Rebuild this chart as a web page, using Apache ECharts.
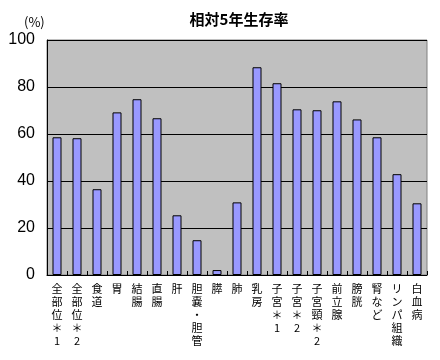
<!DOCTYPE html>
<html>
<head>
<meta charset="utf-8">
<script src="https://cdn.jsdelivr.net/npm/echarts@6/dist/echarts.min.js"></script>
<style>
html,body{margin:0;padding:0;background:#fff;}
#c{width:440px;height:360px;}
</style>
</head>
<body>
<div id="c"></div>
<script>
const titleText = '相対5年生存率';
const unitText = '(%)';
const categories = ['全部位＊1','全部位＊2','食道','胃','結腸','直腸','肝','胆嚢・胆管','膵','肺','乳房','子宮＊1','子宮＊2','子宮頸＊2','前立腺','膀胱','腎など','リンパ組織','白血病'];
const survivalRates = [58.6, 58.2, 36.5, 69.2, 74.8, 66.7, 25.4, 14.8, 2.1, 30.9, 88.4, 81.6, 70.5, 70.1, 73.9, 66.2, 58.6, 42.9, 30.5];
const yTicks = {min: 0, max: 100, interval: 20};

const FONT = '"Noto Sans CJK JP", "Noto Sans", sans-serif';
const chart = echarts.init(document.getElementById('c'), null, {renderer: 'canvas'});
chart.setOption({
  animation: false,
  backgroundColor: '#ffffff',
  title: {
    text: titleText,
    left: 234, top: 7,
    textAlign: 'center',
    textStyle: {fontFamily: FONT, fontSize: 15, fontWeight: 'bold', color: '#000'}
  },
  graphic: [{
    type: 'text', left: 24, top: 16,
    style: {text: unitText, font: '13px ' + FONT, fill: '#000'}
  }],
  grid: {
    left: 47, right: 13, top: 40, bottom: 85,
    show: true, backgroundColor: '#C0C0C0', borderColor: '#808080', borderWidth: 1
  },
  xAxis: {
    type: 'category',
    data: categories,
    axisLine: {lineStyle: {color: '#000', width: 1}},
    axisTick: {show: true, inside: true, length: 4, alignWithLabel: false, lineStyle: {color: '#000'}},
    axisLabel: {
      interval: 0, margin: 7, fontFamily: FONT, fontSize: 11, lineHeight: 13, color: '#000',
      formatter: v => Array.from(v).join('\n'),
      verticalAlign: 'top'
    }
  },
  yAxis: {
    type: 'value',
    min: yTicks.min, max: yTicks.max, interval: yTicks.interval,
    axisLine: {show: true, lineStyle: {color: '#000', width: 1}},
    axisTick: {show: true, inside: true, length: 4, lineStyle: {color: '#000'}},
    splitLine: {show: true, lineStyle: {color: '#000', width: 1}},
    axisLabel: {fontFamily: '"Liberation Sans", Arial, sans-serif', fontSize: 16, color: '#000', margin: 12, padding: [6, 0, 0, 0]}
  },
  series: [{
    type: 'bar',
    data: survivalRates,
    barWidth: 9,
    itemStyle: {color: '#9999FF', borderColor: '#000', borderWidth: 1}
  }]
});
</script>
</body>
</html>
